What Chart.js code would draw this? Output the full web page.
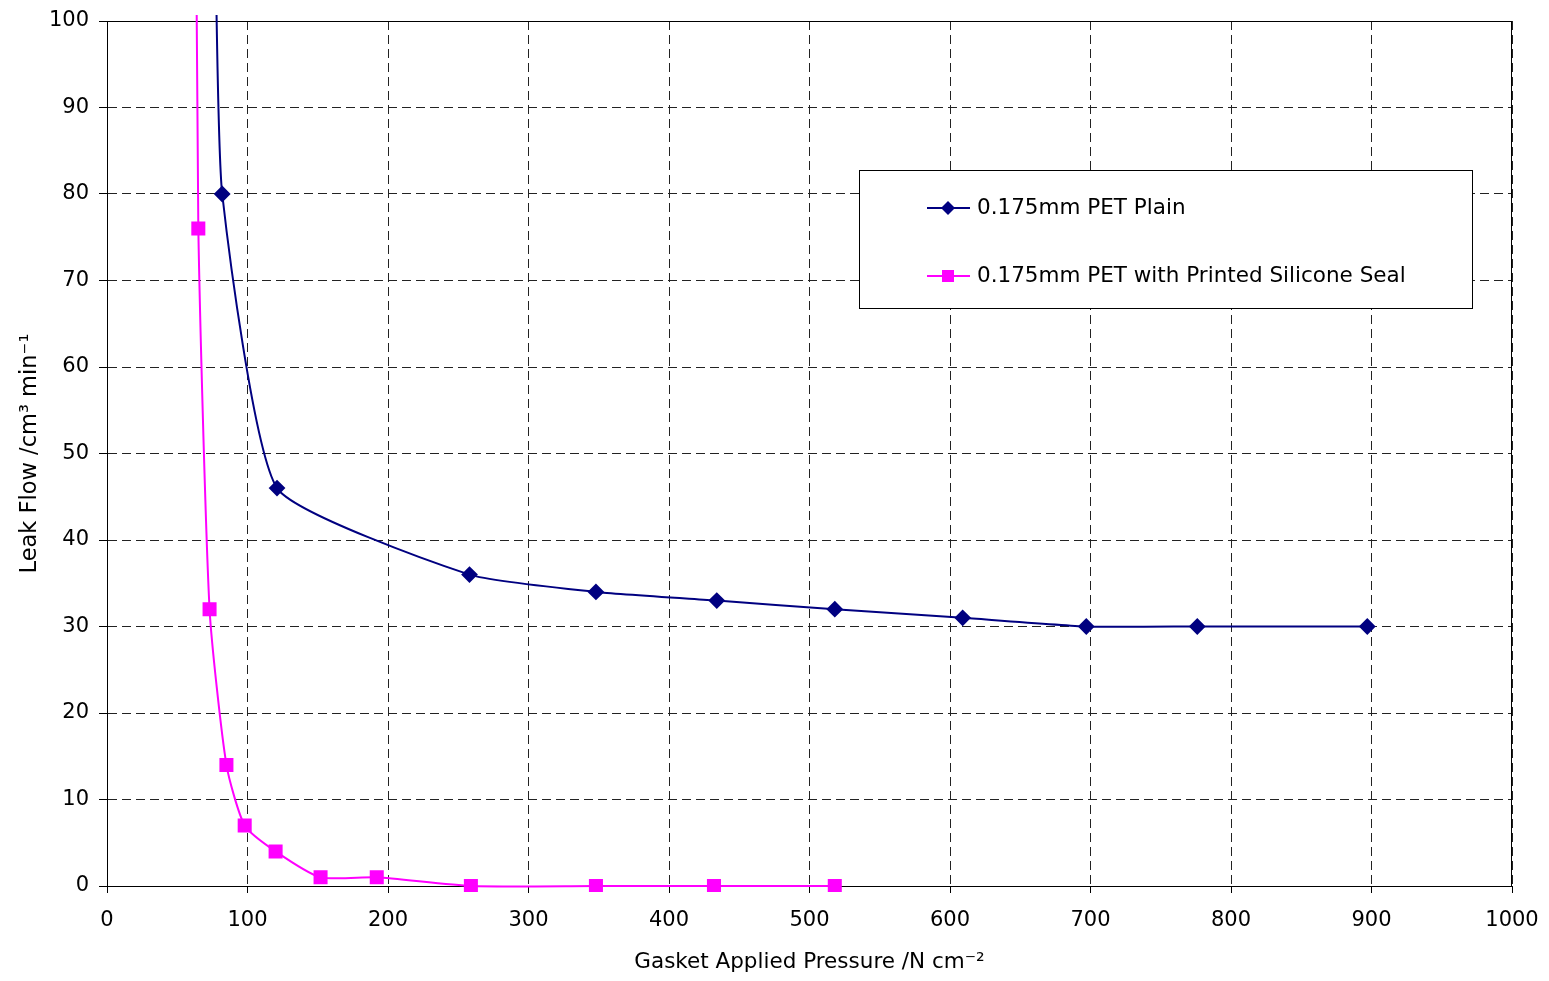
<!DOCTYPE html>
<html>
<head>
<meta charset="utf-8">
<script src="https://cdn.jsdelivr.net/npm/chart.js@4"></script>
<style>
  html, body { margin: 0; padding: 0; background: #fff; }
  #wrap { width: 1549px; height: 981px; }
</style>
</head>
<body>
<div id="wrap"><canvas id="leakChart"></canvas></div>
<script>
// pressure (N cm-2) and leak flow (cm3 min-1), first point is off the top of the plot
const plainPressure = [77, 82, 121, 258, 348, 434, 518, 609, 697, 776, 897];
const plainFlow = [110, 80, 46, 36, 34, 33, 32, 31, 30, 30, 30];
const sealPressure = [63, 65, 73, 85, 98, 120, 152, 192, 259, 348, 432, 518];
const sealFlow = [130, 76, 32, 14, 7, 4, 1, 1, 0, 0, 0, 0];
const xTicks = [0, 100, 200, 300, 400, 500, 600, 700, 800, 900, 1000];
const yTicks = [0, 10, 20, 30, 40, 50, 60, 70, 80, 90, 100];

const font = 'DejaVu Sans, Verdana, sans-serif';
const toPoints = (xs, ys) => xs.map((x, i) => ({ x: x, y: ys[i] }));

// box round the plot
const frame = {
  id: 'frame',
  beforeDatasetsDraw(chart) {
    const a = chart.chartArea, c = chart.ctx;
    c.save();
    c.strokeStyle = '#000';
    c.lineWidth = 1;
    c.strokeRect(Math.round(a.left) + 0.5, Math.round(a.top) + 0.5,
      Math.round(a.right - a.left) - 1, Math.round(a.bottom - a.top));
    c.restore();
  }
};

// legend box inside the plot, upper right
const boxLegend = {
  id: 'boxLegend',
  afterDraw(chart) {
    const a = chart.chartArea, c = chart.ctx;
    const x = Math.round(a.left + 752), y = Math.round(a.top + 149), w = 613, h = 138;
    c.save();
    c.fillStyle = '#fff';
    c.fillRect(x, y, w, h);
    c.strokeStyle = '#000';
    c.lineWidth = 1;
    c.strokeRect(x + 0.5, y + 0.5, w, h);
    chart.data.datasets.forEach((ds, i) => {
      const ry = y + 38 + i * 68;
      c.strokeStyle = ds.borderColor;
      c.lineWidth = 2;
      c.beginPath();
      c.moveTo(x + 68, ry);
      c.lineTo(x + 111, ry);
      c.stroke();
      c.fillStyle = ds.backgroundColor;
      c.beginPath();
      if (ds.pointStyle === 'rectRot') {
        c.moveTo(x + 89, ry - 7);
        c.lineTo(x + 96, ry);
        c.lineTo(x + 89, ry + 7);
        c.lineTo(x + 82, ry);
        c.closePath();
      } else {
        c.rect(x + 83, ry - 6, 12, 12);
      }
      c.fill();
      c.fillStyle = '#000';
      c.font = '21.5px ' + font;
      c.textBaseline = 'middle';
      c.fillText(ds.label, x + 118, ry);
    });
    c.restore();
  }
};

new Chart(document.getElementById('leakChart'), {
  type: 'line',
  data: {
    datasets: [
      {
        label: '0.175mm PET Plain',
        data: toPoints(plainPressure, plainFlow),
        borderColor: '#000080',
        backgroundColor: '#000080',
        borderWidth: 2,
        pointStyle: 'rectRot',
        pointRadius: 7,
        pointHoverRadius: 7,
        tension: 0.16,
        clip: { left: 0, top: 6, right: 0, bottom: 6 }
      },
      {
        label: '0.175mm PET with Printed Silicone Seal',
        data: toPoints(sealPressure, sealFlow),
        borderColor: '#ff00ff',
        backgroundColor: '#ff00ff',
        borderWidth: 2,
        pointStyle: 'rect',
        pointRadius: 8.5,
        pointHoverRadius: 8.5,
        tension: 0.2,
        clip: { left: 0, top: 6, right: 0, bottom: 6 }
      }
    ]
  },
  options: {
    responsive: true,
    maintainAspectRatio: false,
    animation: false,
    layout: { padding: { left: 0, top: 21, right: 37, bottom: 0 } },
    elements: { line: { capBezierPoints: false } },
    plugins: {
      legend: { display: false },
      tooltip: { enabled: false }
    },
    scales: {
      x: {
        type: 'linear',
        min: 0,
        max: 1000,
        afterBuildTicks: s => { s.ticks = xTicks.map(v => ({ value: v })); },
        afterFit: s => { s.height = 95; s.paddingLeft = 0; s.paddingRight = 0; },
        ticks: { color: '#000', font: { family: font, size: 21 }, padding: 15, maxRotation: 0, callback: v => String(v) },
        grid: { color: '#222', lineWidth: 1, tickLength: 7, tickColor: '#000' },
        border: { color: '#000', width: 1, dash: [9, 5] },
        title: {
          display: true,
          text: 'Gasket Applied Pressure /N cm⁻²',
          color: '#000',
          font: { family: font, size: 21.5 },
          padding: { top: 0, bottom: 6 }
        }
      },
      y: {
        min: 0,
        max: 100,
        afterBuildTicks: s => { s.ticks = yTicks.map(v => ({ value: v })); },
        afterFit: s => { s.width = 107; s.paddingTop = 0; s.paddingBottom = 0; },
        ticks: { color: '#000', font: { family: font, size: 21 }, padding: 10, callback: v => String(v) },
        grid: { color: '#222', lineWidth: 1, tickLength: 8, tickColor: '#000' },
        border: { color: '#000', width: 1, dash: [9, 5] },
        title: {
          display: true,
          text: 'Leak Flow /cm³ min⁻¹',
          color: '#000',
          font: { family: font, size: 22.5 },
          padding: { top: 17, bottom: 0 }
        }
      }
    }
  },
  plugins: [frame, boxLegend]
});
</script>
</body>
</html>
